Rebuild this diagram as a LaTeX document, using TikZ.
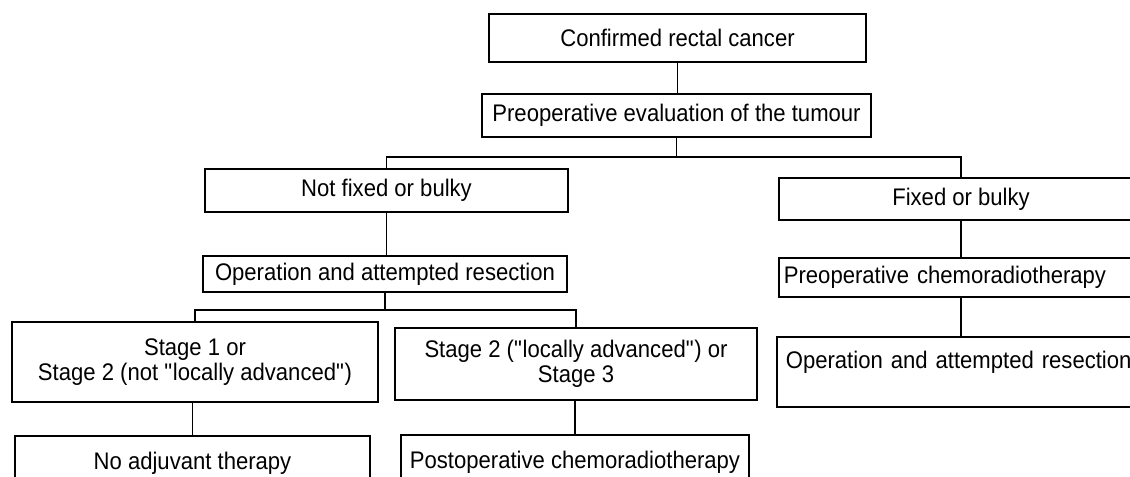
\documentclass[tikz,border=0pt]{standalone}
\usepackage{fontspec}
\setmainfont[FakeStretch=0.92]{Liberation Sans}

\begin{document}
\begin{tikzpicture}[x=0.75pt,y=0.75pt,yscale=-1,xscale=1,
  font=\fontsize{18}{18.75}\selectfont,
  box/.style={draw, line width=1.3pt, inner sep=0pt, align=center},
  leftbox/.style={draw, line width=1.3pt, inner ysep=0pt, align=left, anchor=west},
  link/.style={line width=1.1pt}]
\useasboundingbox (0,0) rectangle (1130,476);
\clip (0,0) rectangle (1130,476);

%Shape: Rectangle
\node[box, minimum width=282.75pt, minimum height=36pt] (conf) at (677.5,38) {Confirmed rectal cancer};
\node[box, minimum width=291.75pt, minimum height=32.25pt] (eval) at (676.5,115.5) {Preoperative evaluation of the tumour};
% left branch
\node[box, minimum width=272.25pt, minimum height=32.25pt] (nfix) at (386.5,190.5) {Not fixed or bulky};
\node[box, minimum width=273pt, minimum height=27pt] (opl) at (385,274) {Operation and attempted resection};
\node[box, minimum width=274.5pt, minimum height=60pt] (sone) at (195,362) {Stage 1 or\\ Stage 2 (not \textquotedbl locally advanced\textquotedbl)};
\node[box, minimum width=271.5pt, minimum height=54pt] (stwo) at (576,364) {Stage 2 (\textquotedbl locally advanced\textquotedbl) or\\ Stage 3};
\node[box, minimum width=266.25pt, minimum height=40.5pt] (noadj) at (192.5,463) {No adjuvant therapy};
\node[box, minimum width=261pt, minimum height=40.5pt] (postop) at (575,462) {Postoperative chemoradiotherapy};
% right branch
\node[box, minimum width=273pt, minimum height=31.5pt] (fix) at (961,199) {Fixed or bulky};
\node[leftbox, inner xsep=3.75pt, text width=271.5pt, minimum height=29.25pt] (pchemo) at (778,277.5) {Preoperative chemoradiotherapy};
\node[leftbox, inner xsep=6.75pt, text width=267pt, minimum height=52.5pt] (opr) at (776,372) {Operation and attempted resection\\ \mbox{}};

%Straight Lines
\draw[link] (conf.south) -- (conf.south |- eval.north);
\draw[link] (eval.south) -- ++(0,19) -| (nfix.north);
\draw[link] (eval.south) -- ++(0,19) -| (fix.north);
\draw[link] (nfix.south) -- (nfix.south |- opl.north);
\draw[link] (opl.south) -- ++(0,17) -| (sone.north);
\draw[link] (opl.south) -- ++(0,17) -| (stwo.north);
\draw[link] (sone.south -| noadj.north) -- (noadj.north);
\draw[link] (stwo.south -| postop.north) -- (postop.north);
\draw[link] (fix.south) -- (fix.south |- pchemo.north);
\draw[link] (fix.south |- pchemo.south) -- (fix.south |- opr.north);

\end{tikzpicture}
\end{document}
